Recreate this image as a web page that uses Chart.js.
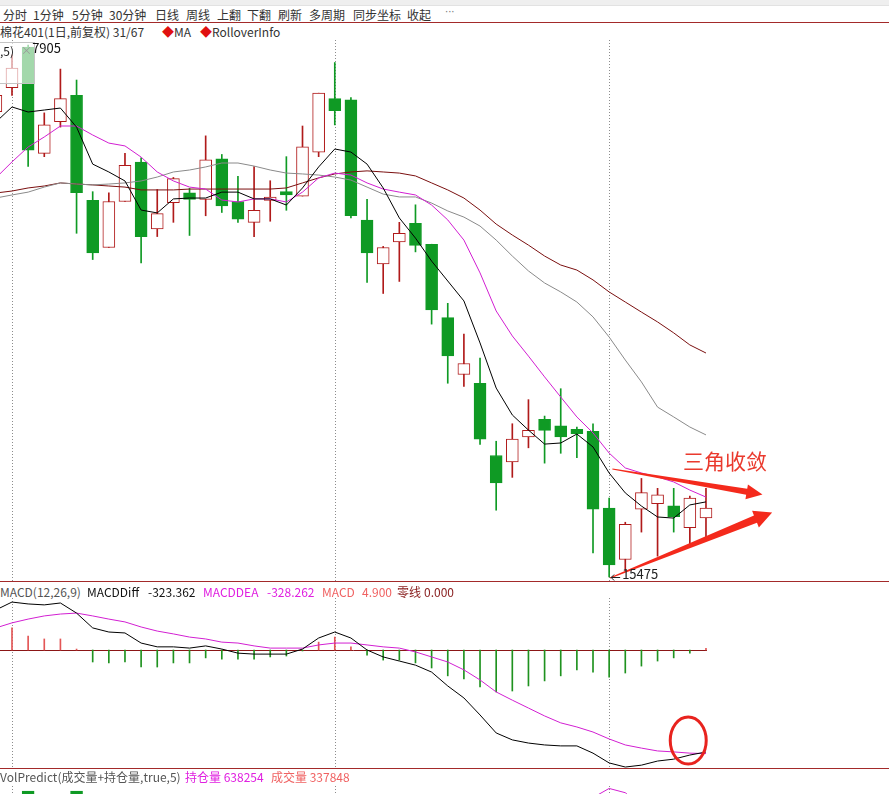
<!DOCTYPE html>
<html lang="zh-CN">
<head>
<meta charset="utf-8">
<title>棉花401 日线</title>
<script src="https://cdn.jsdelivr.net/npm/chart.js@4.4.1/dist/chart.umd.min.js"></script>
<style>
  html, body { margin: 0; padding: 0; background: #fff; }
  body { position: relative; width: 889px; height: 794px; overflow: hidden;
         font-family: "Noto Sans CJK SC", "Noto Sans", sans-serif; font-size: 12px; color: #333; }
  .t { position: absolute; white-space: nowrap; height: 16px; line-height: 16px; }
  .sep { position: absolute; left: 0; width: 889px; height: 1px; background: #a32a2a; }
  canvas { position: absolute; left: 0; }
</style>
</head>
<body>

<div style="position:absolute;left:0;top:0;width:889px;height:5px;background:#efefef;border-bottom:1px solid #e2e2e2"></div>

<div class="t" style="left:3px;top:7px">分时</div>
<div class="t" style="left:33px;top:7px">1分钟</div>
<div class="t" style="left:72px;top:7px">5分钟</div>
<div class="t" style="left:109px;top:7px">30分钟</div>
<div class="t" style="left:155px;top:7px">日线</div>
<div class="t" style="left:186px;top:7px">周线</div>
<div class="t" style="left:217px;top:7px">上翻</div>
<div class="t" style="left:247px;top:7px">下翻</div>
<div class="t" style="left:278px;top:7px">刷新</div>
<div class="t" style="left:309px;top:7px">多周期</div>
<div class="t" style="left:353px;top:7px">同步坐标</div>
<div class="t" style="left:407px;top:7px">收起</div>
<div class="t" style="left:445px;top:4px;color:#777;font-family:'DejaVu Sans';font-size:10px">···</div>
<div class="sep" style="top:22px"></div>

<div class="t" style="left:0;top:24px">棉花401(1日,前复权) 31/67</div>
<div class="t" style="left:162px;top:24px"><span style="color:#e01010">◆</span>MA</div>
<div class="t" style="left:200px;top:24px"><span style="color:#e01010">◆</span>RolloverInfo</div>

<canvas id="price" width="889" height="541" style="top:40px"></canvas>

<div style="position:absolute;left:-1px;top:42px;width:34px;height:40px;border:1px solid #c4c4c4;background:rgba(255,255,255,0.62)"></div>
<div class="t" style="left:0;top:43px;color:#222">,5)</div>
<div class="t" style="left:21px;top:42px;color:#9a9a9a;font-size:11px">×</div>
<div class="t" id="hiLabel" style="font-size:13px;color:#111">7905</div>
<div class="t" id="loLabel" style="font-size:13px;color:#222">15475</div>
<div class="t" style="left:683px;top:448px;height:24px;line-height:24px;font-size:21px;color:#ea3a2e">三角收敛</div>

<div class="sep" style="top:581px"></div>
<div class="t" style="left:0;top:584px;color:#555">MACD(12,26,9)</div>
<div class="t" style="left:87px;top:584px;color:#111">MACDDiff</div>
<div class="t" style="left:148px;top:584px;color:#111">-323.362</div>
<div class="t" style="left:203px;top:584px;color:#e020e0">MACDDEA</div>
<div class="t" style="left:267px;top:584px;color:#e020e0">-328.262</div>
<div class="t" style="left:322px;top:584px;color:#f06262">MACD</div>
<div class="t" style="left:362px;top:584px;color:#f06262">4.900</div>
<div class="t" style="left:397px;top:584px;color:#8b2222">零线</div>
<div class="t" style="left:424px;top:584px;color:#8b2222">0.000</div>

<canvas id="macd" width="889" height="170" style="top:598px"></canvas>

<div class="sep" style="top:768px"></div>
<canvas id="vol" width="889" height="100" style="top:786px"></canvas>
<div class="t" style="left:0;top:769px;color:#555">VolPredict(成交量+持仓量,true,5)</div>
<div class="t" style="left:185px;top:769px;color:#e020e0">持仓量 638254</div>
<div class="t" style="left:271px;top:769px;color:#f06262">成交量 337848</div>

<script>
// daily candles, left to right (first one is cut off by the left edge)
const opens  = [17600,17710,17895,17410,17555,17675,17195,16980,17190,17370,17065,17185,17230,17200,17385,17190,17095,17195,17235,17215,17415,17660,17655,17105,16905,17005,17090,16995,16660,16400,16360,16030,16000,16115,16195,16165,16150,16140,15790,15555,15785,15810,15800,15700,15745];
const highs  = [17710,17860,17905,17595,17795,17745,17235,17230,17410,17390,17245,17300,17250,17490,17405,17305,17350,17285,17395,17535,17685,17825,17665,17200,16985,17095,17175,16995,16725,16585,16475,16095,16175,16285,16210,16335,16160,16175,15835,15725,15925,15880,15880,15845,15880];
const lows   = [17570,17675,17350,17395,17530,17045,16925,16980,17190,16910,17030,17095,17035,17125,17140,17095,17030,17100,17150,17215,17395,17540,17115,16820,16770,16825,16960,16630,16360,16345,16080,15780,15930,16065,15995,16040,16020,15585,15475,15505,15680,15570,15680,15620,15655];
const closes = [17675,17800,17425,17540,17660,17230,16955,17190,17355,17030,17135,17295,17200,17380,17170,17110,17150,17210,17220,17440,17685,17605,17125,16955,16980,17045,16990,16695,16485,16450,16105,15905,16105,16145,16145,16115,16130,15785,15530,15715,15860,15850,15750,15835,15790];

// moving averages
const ma5  = [17553,17622,17599,17608,17617,17530,17361,17325,17284,17151,17138,17202,17206,17206,17233,17233,17202,17202,17174,17252,17348,17430,17416,17361,17252,17115,17023,16918,16827,16736,16544,16338,16215,16146,16082,16087,16128,16069,15950,15859,15799,15749,15744,15804,15818];
const ma10 = [17298,17371,17439,17485,17535,17535,17494,17457,17444,17393,17325,17284,17256,17247,17197,17188,17202,17202,17188,17233,17298,17320,17311,17275,17247,17233,17220,17174,17106,17014,16864,16690,16576,16484,16389,16297,16206,16133,16041,15973,15950,15932,15909,15872,15840];
const ma20 = [17206,17220,17233,17256,17275,17270,17266,17270,17275,17284,17302,17325,17334,17348,17366,17366,17352,17334,17320,17316,17311,17302,17288,17256,17224,17211,17211,17183,17147,17119,17078,17014,16941,16873,16818,16777,16731,16663,16571,16466,16366,16251,16206,16160,16124];
const ma60 = [17229,17238,17252,17261,17275,17270,17266,17261,17256,17243,17243,17243,17247,17247,17247,17247,17247,17247,17252,17275,17298,17316,17325,17330,17325,17320,17307,17275,17243,17206,17151,17087,17037,16991,16941,16900,16877,16832,16777,16731,16685,16640,16590,16535,16498];

// MACD(12,26,9)
const diff = [127,152,146,143,149,117,70,57,54,22,10,10,6,13,3,-10,-13,-13,-13,3,38,57,38,0,-22,-35,-48,-70,-114,-152,-206,-263,-285,-295,-301,-304,-304,-327,-358,-371,-365,-352,-346,-333,-323.362];
const dea  = [70,86,98,108,114,117,108,98,89,73,60,51,41,35,25,22,13,6,6,6,16,22,22,16,10,6,-6,-22,-38,-63,-95,-133,-159,-184,-209,-231,-244,-260,-282,-301,-311,-320,-323,-327,-328.262];
const macd = [57,70,44,35,35,3,-38,-41,-38,-54,-54,-41,-41,-25,-29,-29,-29,-22,-19,-3,25,41,10,-16,-32,-32,-41,-57,-82,-92,-117,-133,-130,-114,-98,-82,-63,-70,-86,-73,-51,-35,-25,-10,4.9];

// volume panel: only the tops that show above the bottom edge
const volume       = [null,null,1140000,null,null,1140000,null,null,null,null,null,null,null,null,null,null,null,null,null,null,null,null,null,null,null,null,null,null,null,null,null,null,null,null,null,null,null,null,null,null,null,null,null,null,337848];
const openInterest = [null,null,null,null,null,null,null,null,null,null,null,null,null,null,null,null,null,null,null,null,null,null,null,null,null,null,null,null,null,null,null,null,null,null,null,null,null,645000,660000,653000,630000,null,null,null,638254];

// first bar of each period (dotted separators)
const periodStarts = [1, 21, 38];

const RED = '#b01a1a';
const GREEN = '#0f9a24';
const days = opens.map((_, i) => i);
const isUp = i => closes[i] >= opens[i];

const xAxis = { type: 'linear', display: false, offset: false, min: 0.2565, max: 55.34 };

const baseOptions = {
    responsive: false,
    animation: false,
    events: [],
    layout: { padding: 0 },
    plugins: { legend: { display: false }, tooltip: { enabled: false } }
};

const dividers = {
    id: 'dividers',
    beforeDatasetsDraw(chart) {
        const { ctx, chartArea, scales } = chart;
        ctx.save();
        ctx.strokeStyle = '#8c8c8c';
        ctx.lineWidth = 1;
        ctx.setLineDash([1, 2]);
        periodStarts.forEach(d => {
            const x = Math.round(scales.x.getPixelForValue(d)) + 0.5;
            ctx.beginPath();
            ctx.moveTo(x, chartArea.top);
            ctx.lineTo(x, chartArea.bottom);
            ctx.stroke();
        });
        ctx.restore();
    }
};

function lineSet(data, color) {
    return {
        type: 'line',
        data: days.map(i => ({ x: i, y: data[i] })),
        borderColor: color,
        borderWidth: 1,
        pointRadius: 0,
        tension: 0,
        order: 0
    };
}

// hand-drawn triangle arrows, anchored in (bar, price)
const arrowNotes = [
    { from: [38.2, 15968], to: [47.5, 15852], tail: 0.5, shaft: 3, head: 7.5, len: 16 },
    { from: [38.05, 15470], to: [48.1, 15770], tail: 0.5, shaft: 4, head: 9, len: 18 }
];

function drawArrow(ctx, x1, y1, x2, y2, a) {
    const L = Math.hypot(x2 - x1, y2 - y1);
    const ux = (x2 - x1) / L, uy = (y2 - y1) / L;
    const nx = -uy, ny = ux;
    const bx = x2 - ux * a.len, by = y2 - uy * a.len;
    ctx.beginPath();
    ctx.moveTo(x1 + nx * a.tail, y1 + ny * a.tail);
    ctx.lineTo(bx + nx * a.shaft, by + ny * a.shaft);
    ctx.lineTo(bx + nx * a.head, by + ny * a.head);
    ctx.lineTo(x2, y2);
    ctx.lineTo(bx - nx * a.head, by - ny * a.head);
    ctx.lineTo(bx - nx * a.shaft, by - ny * a.shaft);
    ctx.lineTo(x1 - nx * a.tail, y1 - ny * a.tail);
    ctx.closePath();
    ctx.fill();
}

const priceNotes = {
    id: 'priceNotes',
    afterDatasetsDraw(chart) {
        const { ctx, scales } = chart;
        ctx.save();
        ctx.fillStyle = '#f42a1c';
        arrowNotes.forEach(a => {
            drawArrow(ctx,
                scales.x.getPixelForValue(a.from[0]), scales.y.getPixelForValue(a.from[1]),
                scales.x.getPixelForValue(a.to[0]), scales.y.getPixelForValue(a.to[1]), a);
        });
        // small arrow pointing at the lowest low
        const lo = lows.indexOf(Math.min(...lows));
        const x = scales.x.getPixelForValue(lo) + 2;
        const y = Math.round(scales.y.getPixelForValue(lows[lo])) + 0.5;
        ctx.strokeStyle = '#222';
        ctx.lineWidth = 1;
        ctx.beginPath();
        ctx.moveTo(x, y); ctx.lineTo(x + 9, y);
        ctx.moveTo(x, y); ctx.lineTo(x + 3, y - 3);
        ctx.moveTo(x, y); ctx.lineTo(x + 3, y + 3);
        ctx.stroke();
        ctx.restore();
    }
};

const priceChart = new Chart(document.getElementById('price'), {
    type: 'bar',
    data: {
        datasets: [
            lineSet(ma5, '#000000'),
            lineSet(ma10, '#d21fd2'),
            lineSet(ma20, '#8a8a8a'),
            lineSet(ma60, '#7a0f0f'),
            {
                label: 'body',
                data: days.map(i => ({ x: i, y: [opens[i], closes[i]] })),
                backgroundColor: days.map(i => isUp(i) ? '#ffffff' : GREEN),
                borderColor: days.map(i => isUp(i) ? RED : GREEN),
                borderWidth: 1,
                borderSkipped: false,
                barThickness: 12,
                grouped: false,
                order: 1
            },
            {
                label: 'wick',
                data: days.map(i => ({ x: i, y: [lows[i], highs[i]] })),
                backgroundColor: days.map(i => isUp(i) ? RED : GREEN),
                borderWidth: 0,
                barThickness: 1,
                grouped: false,
                order: 2
            }
        ]
    },
    options: {
        ...baseOptions,
        scales: {
            x: xAxis,
            y: { type: 'linear', display: false, min: 15456.6, max: 17927.9 }
        }
    },
    plugins: [dividers, priceNotes]
});

const zeroLine = {
    id: 'zeroLine',
    beforeDatasetsDraw(chart) {
        const { ctx, chartArea, scales } = chart;
        const y = Math.round(scales.y.getPixelForValue(0)) + 0.5;
        ctx.save();
        ctx.strokeStyle = '#8b1616';
        ctx.lineWidth = 1;
        ctx.beginPath();
        ctx.moveTo(chartArea.left, y);
        ctx.lineTo(scales.x.getPixelForValue(days.length - 1) + 1, y);
        ctx.stroke();
        ctx.restore();
    }
};

// red circle drawn around the last DIFF / DEA cross
const circleNote = { at: [42.9, -287], rx: 18, ry: 23.5 };
const macdNotes = {
    id: 'macdNotes',
    afterDatasetsDraw(chart) {
        const { ctx, scales } = chart;
        ctx.save();
        ctx.strokeStyle = '#e8231e';
        ctx.lineWidth = 3;
        ctx.beginPath();
        ctx.ellipse(scales.x.getPixelForValue(circleNote.at[0]), scales.y.getPixelForValue(circleNote.at[1]),
            circleNote.rx, circleNote.ry, 0, 0, Math.PI * 2);
        ctx.stroke();
        ctx.restore();
    }
};

new Chart(document.getElementById('macd'), {
    type: 'bar',
    data: {
        datasets: [
            lineSet(diff, '#000000'),
            lineSet(dea, '#d21fd2'),
            {
                label: 'MACD',
                data: days.map(i => ({ x: i, y: macd[i] })),
                backgroundColor: days.map(i => macd[i] >= 0 ? '#e35656' : '#1f921f'),
                barThickness: 1,
                order: 1
            }
        ]
    },
    options: {
        ...baseOptions,
        scales: {
            x: xAxis,
            y: { type: 'linear', display: false, min: -374.06, max: 164.84 }
        }
    },
    plugins: [dividers, zeroLine, macdNotes]
});

new Chart(document.getElementById('vol'), {
    type: 'bar',
    data: {
        datasets: [
            {
                type: 'line',
                label: '持仓量',
                data: days.map(i => ({ x: i, y: openInterest[i] })),
                yAxisID: 'y2',
                borderColor: '#d21fd2',
                borderWidth: 1,
                pointRadius: 0,
                spanGaps: false,
                order: 0
            },
            {
                label: '成交量',
                data: days.map(i => ({ x: i, y: volume[i] })),
                backgroundColor: days.map(i => isUp(i) ? '#ffffff' : GREEN),
                borderColor: days.map(i => isUp(i) ? RED : GREEN),
                borderWidth: 1,
                borderSkipped: false,
                barThickness: 12,
                order: 1
            }
        ]
    },
    options: {
        ...baseOptions,
        scales: {
            x: xAxis,
            y: { type: 'linear', display: false, min: 0, max: 1200000 },
            y2: { type: 'linear', display: false, min: 500000, max: 664000 }
        }
    },
    plugins: [dividers]
});

// high / low price labels placed through the price scales
function placeLabel(id, left, centerY) {
    const el = document.getElementById(id);
    el.style.left = left + 'px';
    el.style.top = (centerY - 8) + 'px';
}
const canvasTop = 40;
const hi = highs.indexOf(Math.max(...highs));
const lo = lows.indexOf(Math.min(...lows));
placeLabel('hiLabel', priceChart.scales.x.getPixelForValue(hi) + 4,
    canvasTop + priceChart.scales.y.getPixelForValue(highs[hi]) + 3);
placeLabel('loLabel', priceChart.scales.x.getPixelForValue(lo) + 13,
    canvasTop + priceChart.scales.y.getPixelForValue(lows[lo]) - 3);
</script>
</body>
</html>
